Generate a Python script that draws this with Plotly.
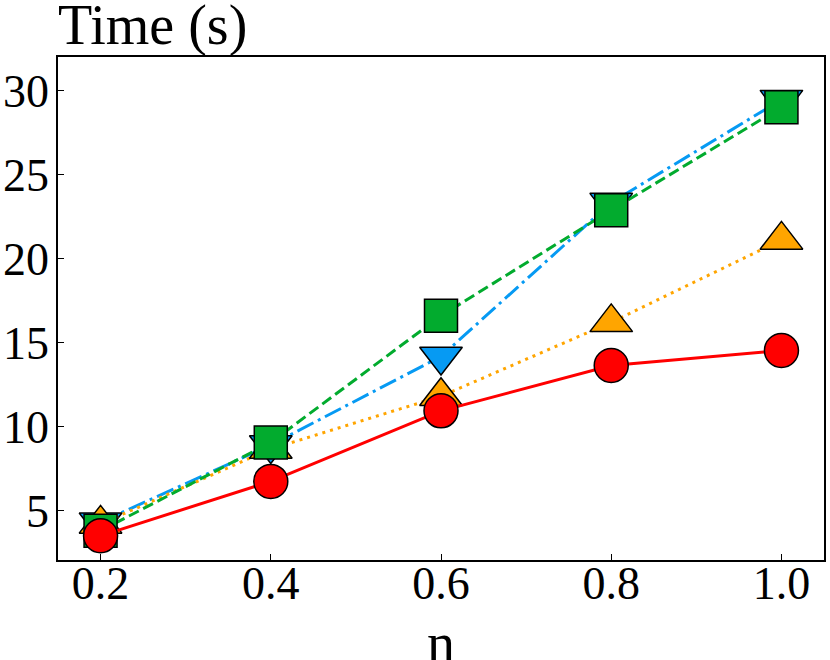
import plotly.graph_objects as go

n_values = [0.2, 0.4, 0.6, 0.8, 1.0]
time_blue = [4.3, 8.9, 14.17, 23.33, 29.46]
time_orange = [4.2, 8.66, 11.8, 16.2, 21.11]
time_green = [3.79, 9.05, 16.59, 22.88, 29.01]
time_red = [3.49, 6.73, 10.93, 13.63, 14.52]
x_ticks = [0.2, 0.4, 0.6, 0.8, 1.0]
x_tick_labels = ["0.2", "0.4", "0.6", "0.8", "1.0"]
y_ticks = [5, 10, 15, 20, 25, 30]

FONT = "Liberation Serif, Times New Roman, Times, serif"
fig = go.Figure()

series = [
    (time_blue, "#069AF3", "18px,5px,3px,5px", "triangle-down", 37),
    (time_orange, "#FFA500", "3px,5px", "triangle-up", 37),
    (time_green, "#02AB2E", "11px,5px", "square", 33),
    (time_red, "#FF0000", "solid", "circle", 34),
]
for vals, col, dash, sym, sz in series:
    fig.add_trace(go.Scatter(
        x=n_values, y=vals, mode="lines+markers",
        line=dict(color=col, width=3, dash=dash),
        marker=dict(symbol=sym, size=sz, color=col,
                    line=dict(color="black", width=1.5)),
        showlegend=False,
    ))

fig.update_layout(
    width=830, height=660,
    margin=dict(l=58, r=6, t=57, b=100),
    paper_bgcolor="white", plot_bgcolor="white",
    font=dict(family=FONT, color="black", size=46),
)
fig.update_xaxes(
    range=[0.15, 1.05], tickvals=x_ticks, ticktext=x_tick_labels,
    ticks="inside", ticklen=6, tickwidth=1.2, tickcolor="black",
    showline=True, linecolor="black", linewidth=1.5, mirror=True,
    showgrid=False, zeroline=False, automargin=False,
    tickfont=dict(family=FONT, size=46), ticklabelstandoff=-18,
)
fig.update_yaxes(
    range=[2.05, 32.0], tickvals=y_ticks,
    ticks="inside", ticklen=6, tickwidth=1.2, tickcolor="black",
    showline=True, linecolor="black", linewidth=1.5, mirror=True,
    showgrid=False, zeroline=False, automargin=False,
    tickfont=dict(family=FONT, size=46), ticklabelstandoff=-2,
)
fig.add_annotation(
    text="Time (s)", xref="paper", yref="paper", x=0, y=1,
    xanchor="left", yanchor="bottom", showarrow=False,
    font=dict(family=FONT, size=56), xshift=-2, yshift=-2,
)
fig.add_annotation(
    text="n", xref="paper", yref="paper", x=0.5, y=0,
    xanchor="center", yanchor="top", showarrow=False,
    font=dict(family=FONT, size=56), yshift=-50,
)
fig.write_html(
    "out.html",
    config={"displayModeBar": False},
    post_script="document.body.style.margin='0px';",
)
